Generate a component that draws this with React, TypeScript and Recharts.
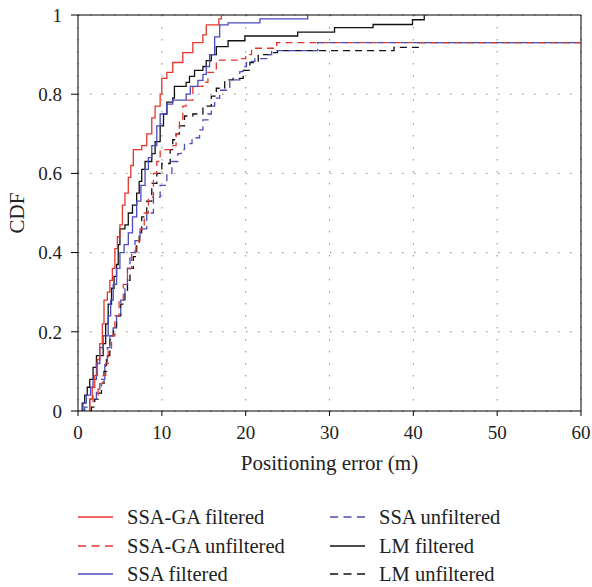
import React from 'react';
import { LineChart, Line, XAxis, YAxis, CartesianGrid, ReferenceLine, Label } from 'recharts';

const X_TICKS = [0, 10, 20, 30, 40, 50, 60];
const Y_TICKS = [0, 0.2, 0.4, 0.6, 0.8, 1];

// [positioning error (m), CDF]
const ssaGaFiltered = [
  [1.4, 0], [1.4, 0.03], [1.7, 0.06], [2.0, 0.09], [2.3, 0.13], [2.6, 0.17], [2.9, 0.22], [3.1, 0.28],
  [3.5, 0.3], [3.8, 0.33], [4.1, 0.36], [4.4, 0.41], [4.7, 0.44], [5.0, 0.47], [5.3, 0.52], [5.6, 0.55],
  [6.0, 0.59], [6.3, 0.62], [6.6, 0.66], [7.6, 0.67], [8.2, 0.7], [8.8, 0.74], [9.2, 0.77], [9.8, 0.8],
  [10.0, 0.84], [10.6, 0.855], [11.3, 0.88], [12.5, 0.905], [13.7, 0.93], [14.9, 0.95], [15.3, 0.975],
  [16.8, 0.99], [17.1, 1.0],
];
const ssaGaUnfiltered = [
  [1.4, 0], [1.4, 0.02], [1.8, 0.04], [2.4, 0.055], [2.8, 0.07], [3.0, 0.09], [3.3, 0.12], [3.6, 0.155],
  [4.0, 0.19], [4.4, 0.24], [4.9, 0.28], [5.4, 0.32], [5.9, 0.36], [6.4, 0.4], [6.9, 0.43], [7.4, 0.46],
  [7.9, 0.5], [8.4, 0.54], [9.0, 0.6], [9.4, 0.63], [9.8, 0.66], [11.2, 0.67], [11.7, 0.7], [12.1, 0.73],
  [12.5, 0.77], [12.9, 0.785], [13.7, 0.82], [14.9, 0.83], [15.5, 0.855], [16.5, 0.886], [19.5, 0.89],
  [20.0, 0.9], [20.7, 0.916], [23.7, 0.93], [60, 0.93],
];
const ssaFiltered = [
  [0.6, 0], [0.6, 0.02], [1.0, 0.04], [1.5, 0.06], [1.8, 0.08], [2.2, 0.12], [2.6, 0.16], [3.0, 0.19],
  [3.6, 0.24], [3.9, 0.28], [4.2, 0.32], [4.6, 0.36], [5.0, 0.4], [5.5, 0.42], [6.0, 0.45], [6.5, 0.49],
  [7.0, 0.53], [7.5, 0.57], [8.0, 0.61], [8.4, 0.64], [8.8, 0.67], [9.4, 0.72], [9.8, 0.75], [10.6, 0.775],
  [11.3, 0.785], [12.9, 0.8], [13.4, 0.82], [14.3, 0.835], [14.9, 0.85], [15.3, 0.87], [15.7, 0.9],
  [16.3, 0.945], [16.9, 0.975], [17.9, 0.98], [21.7, 0.99], [27.4, 1.0],
];
const ssaUnfiltered = [
  [0.8, 0], [0.8, 0.01], [1.4, 0.03], [2.2, 0.055], [2.6, 0.08], [3.2, 0.12], [3.5, 0.16], [3.8, 0.19],
  [4.2, 0.21], [4.6, 0.24], [5.1, 0.28], [5.6, 0.32], [5.9, 0.36], [6.2, 0.4], [6.8, 0.43], [7.4, 0.46],
  [8.2, 0.5], [9.0, 0.54], [9.8, 0.57], [10.6, 0.6], [11.2, 0.63], [11.9, 0.65], [12.3, 0.66], [12.7, 0.675],
  [13.6, 0.69], [14.5, 0.71], [14.9, 0.735], [15.5, 0.75], [15.9, 0.77], [16.3, 0.79], [16.9, 0.81],
  [18.1, 0.836], [19.3, 0.857], [19.7, 0.87], [20.1, 0.883], [21.1, 0.89], [22.7, 0.9], [23.1, 0.91],
  [28.6, 0.93], [60, 0.93],
];
const lmFiltered = [
  [0.5, 0], [0.5, 0.02], [0.8, 0.04], [1.1, 0.06], [1.4, 0.08], [1.8, 0.11], [2.2, 0.14], [3.0, 0.17],
  [3.3, 0.22], [3.6, 0.27], [4.0, 0.31], [4.3, 0.34], [4.6, 0.37], [4.8, 0.42], [5.0, 0.46], [5.6, 0.47],
  [6.0, 0.5], [6.5, 0.52], [7.0, 0.55], [7.3, 0.58], [7.6, 0.61], [8.0, 0.63], [8.8, 0.65], [9.2, 0.68],
  [9.8, 0.72], [10.2, 0.75], [10.6, 0.78], [11.3, 0.79], [11.5, 0.82], [12.9, 0.83], [13.3, 0.845],
  [13.9, 0.86], [14.9, 0.87], [15.3, 0.885], [15.9, 0.9], [16.5, 0.92], [17.9, 0.935], [19.9, 0.947],
  [26.2, 0.957], [30.6, 0.968], [35.2, 0.976], [39.9, 0.988], [41.3, 1.0],
];
const lmUnfiltered = [
  [1.6, 0], [1.6, 0.01], [2.0, 0.03], [2.4, 0.045], [2.8, 0.07], [3.1, 0.1], [3.4, 0.14], [3.8, 0.18],
  [4.2, 0.21], [4.6, 0.24], [5.1, 0.27], [5.6, 0.3], [5.9, 0.33], [6.2, 0.36], [6.6, 0.39], [7.0, 0.42],
  [7.3, 0.45], [7.6, 0.49], [8.2, 0.53], [8.8, 0.575], [9.4, 0.6], [10.0, 0.625], [11.0, 0.66], [11.3, 0.685],
  [11.7, 0.7], [12.1, 0.72], [12.7, 0.745], [13.7, 0.75], [14.9, 0.77], [15.9, 0.795], [16.5, 0.815],
  [17.5, 0.836], [18.5, 0.84], [19.7, 0.86], [20.5, 0.88], [21.5, 0.9], [22.9, 0.905], [23.8, 0.91],
  [37.7, 0.918], [40.7, 0.93], [60, 0.93],
];

const RED = '#e6362c';
const BLUE = '#4b4bbb';
const BLACK = '#111';
const DASH = '7 5';
const FONT = '"Liberation Serif", "DejaVu Serif", serif';

const toRows = (pts: number[][]) => pts.map(([x, y]) => ({ x, y }));

// drawing order: dashed first, solids on top
const SERIES = [
  { name: 'LM unfiltered', pts: lmUnfiltered, color: BLACK, dash: DASH },
  { name: 'SSA-GA unfiltered', pts: ssaGaUnfiltered, color: RED, dash: DASH },
  { name: 'SSA unfiltered', pts: ssaUnfiltered, color: BLUE, dash: DASH },
  { name: 'LM filtered', pts: lmFiltered, color: BLACK, dash: undefined },
  { name: 'SSA filtered', pts: ssaFiltered, color: BLUE, dash: undefined },
  { name: 'SSA-GA filtered', pts: ssaGaFiltered, color: RED, dash: undefined },
];

const LEGEND_COLS = [
  [
    { name: 'SSA-GA filtered', color: RED, dash: undefined },
    { name: 'SSA-GA unfiltered', color: RED, dash: DASH },
    { name: 'SSA filtered', color: BLUE, dash: undefined },
  ],
  [
    { name: 'SSA unfiltered', color: BLUE, dash: DASH },
    { name: 'LM filtered', color: BLACK, dash: undefined },
    { name: 'LM unfiltered', color: BLACK, dash: DASH },
  ],
];

const TICK = { fontSize: 19, fill: '#222', fontFamily: FONT };

function Legend() {
  return (
    <div style={{ position: 'absolute', left: 78, top: 503, display: 'flex' }}>
      {LEGEND_COLS.map((col, ci) => (
        <div key={ci} style={{ width: ci === 0 ? 252 : 240 }}>
          {col.map((it) => (
            <div key={it.name} style={{ display: 'flex', alignItems: 'center', height: 28.5 }}>
              <svg width={35} height={4} style={{ marginRight: 14 }}>
                <line x1={0} y1={2} x2={35} y2={2} stroke={it.color} strokeWidth={1.3} strokeDasharray={it.dash ? '8 5.5' : undefined} />
              </svg>
              <span style={{ fontFamily: FONT, fontSize: 20.5, color: '#222', lineHeight: '28px' }}>{it.name}</span>
            </div>
          ))}
        </div>
      ))}
    </div>
  );
}

export default function App() {
  return (
    <div style={{ position: 'absolute', left: 0, top: 0, width: 592, height: 587, background: '#fff' }}>
      <LineChart width={592} height={480} margin={{ top: 15, right: 11, left: 0, bottom: 0 }}>
        <CartesianGrid stroke="#888" strokeDasharray="1.5 10.5" />
        <XAxis
          type="number"
          dataKey="x"
          domain={[0, 60]}
          ticks={X_TICKS}
          tick={TICK}
          tickSize={5}
          tickMargin={10}
          height={69}
          stroke="#000"
          allowDataOverflow
        >
          <Label
            content={() => (
              <text x={329.5} y={470} textAnchor="middle" fontFamily={FONT} fontSize={21} fill="#222">
                Positioning error (m)
              </text>
            )}
          />
        </XAxis>
        <YAxis
          type="number"
          dataKey="y"
          domain={[0, 1]}
          ticks={Y_TICKS}
          tick={TICK}
          tickSize={7}
          tickMargin={9}
          width={78}
          stroke="#000"
        >
          <Label
            content={() => (
              <text x={17} y={213} transform="rotate(-90 17 213)" textAnchor="middle" dominantBaseline="central" fontFamily={FONT} fontSize={21} fill="#222">
                CDF
              </text>
            )}
          />
        </YAxis>
        <ReferenceLine y={1} stroke="#000" strokeWidth={1} />
        <ReferenceLine x={60} stroke="#000" strokeWidth={1} />
        {SERIES.map((s) => (
          <Line
            key={s.name}
            data={toRows(s.pts)}
            dataKey="y"
            name={s.name}
            type="stepAfter"
            stroke={s.color}
            strokeWidth={1.3}
            strokeDasharray={s.dash}
            dot={false}
            activeDot={false}
            isAnimationActive={false}
          />
        ))}
      </LineChart>
      <Legend />
    </div>
  );
}
